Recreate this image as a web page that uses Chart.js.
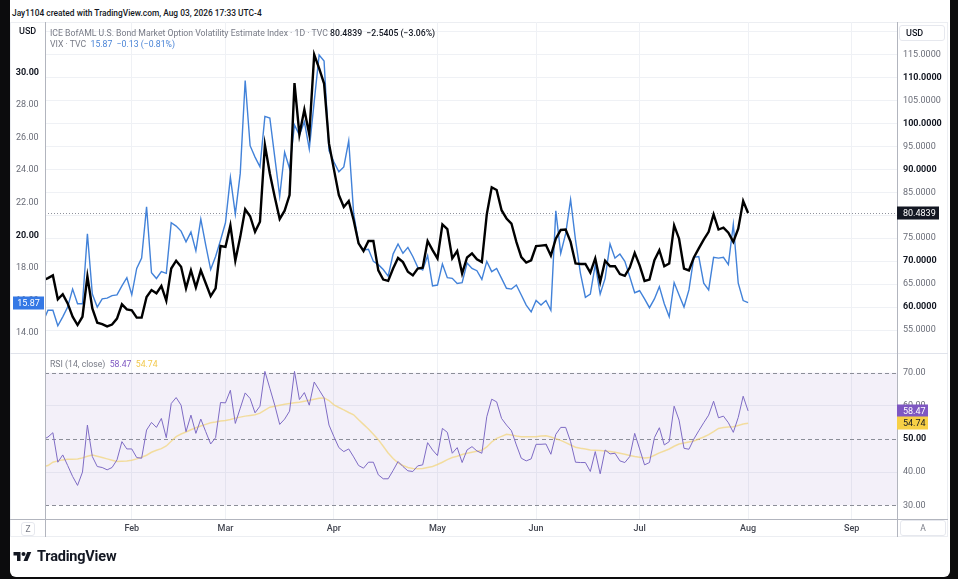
<!DOCTYPE html>
<html>
<head>
<meta charset="utf-8">
<title>MOVE vs VIX</title>
<script src="https://cdn.jsdelivr.net/npm/chart.js@4.4.1/dist/chart.umd.min.js"></script>
<style>
  html, body { margin: 0; padding: 0; }
  body { width: 958px; height: 579px; background: #0c0c0d; position: relative; overflow: hidden;
         font-family: Roboto, "Liberation Sans", sans-serif; }
  #card { position: absolute; left: 10px; top: 0; width: 940px; height: 577px; background: #fff; border-radius: 0 0 6px 6px; }
  .abs { position: absolute; white-space: nowrap; }
  #frame { position: absolute; left: 10px; top: 22px; width: 938px; height: 515px; box-sizing: border-box; border: 1px solid #eceef2; }
  canvas { position: absolute; }
  #mainChart { left: 10px; top: 22px; }
  #rsiChart { left: 10px; top: 353px; }
  .legend { font-size: 8.7px; line-height: 12px; color: #787b86; }
  .dark { color: #131722; }
  .blue { color: #4a84d6; }
  .purple { color: #7e57c2; }
  .yellow { color: #f2c94c; }
  .box { position: absolute; box-sizing: border-box; border: 1px solid #e6e8ee; border-radius: 3px;
         font-size: 8.5px; color: #787b86; text-align: center; }
</style>
</head>
<body>
<div id="card"></div>
<div class="abs dark" style="left:12px; top:8px; font-size:8.4px; font-weight:500;">Jay1104 created with TradingView.com, Aug 03, 2026 17:33 UTC-4</div>
<div id="frame"></div>

<canvas id="mainChart" width="938" height="331"></canvas>
<canvas id="rsiChart" width="938" height="184"></canvas>

<div class="abs dark" style="left:19px; top:26px; font-size:9px; font-weight:500;">USD</div>
<div class="box dark" style="left:899px; top:25px; width:46px; height:16px; line-height:14px; font-size:9px; font-weight:500; text-align:left; padding-left:6px; color:#131722;">USD</div>

<div class="abs legend" style="left:50px; top:27px;">ICE BofAML U.S. Bond Market Option Volatility Estimate Index · 1D · TVC&nbsp;<span class="dark" style="font-weight:500;">80.4839&nbsp;&nbsp;−2.5405 (−3.06%)</span></div>
<div class="abs legend" style="left:50px; top:38px;">VIX · TVC&nbsp;&nbsp;<span class="blue">15.87&nbsp;&nbsp;−0.13 (−0.81%)</span></div>
<div class="abs legend" style="left:50px; top:358px;">RSI (14, close)&nbsp;&nbsp;<span class="purple">58.47</span>&nbsp;&nbsp;<span class="yellow">54.74</span></div>

<div class="box" style="left:21px; top:522px; width:14px; height:14px; line-height:12px;">Z</div>
<div class="box" style="left:900px; top:520px; width:46px; height:16px; line-height:14px;">A</div>

<svg class="abs" style="left:12px; top:550px;" width="21" height="14" viewBox="0 0 36 28">
  <path d="M14 22H7V11H0V4h14v18z" fill="#131722"/>
  <circle cx="20" cy="8" r="4" fill="#131722"/>
  <path d="M28 22h-8l7.5-18h8L28 22z" fill="#131722"/>
</svg>
<div class="abs dark" style="left:37px; top:548px; font-size:14.5px; font-weight:700; letter-spacing:-0.2px;">TradingView</div>

<script>
// bar index of the first value (Feb 2 = 0, one value per trading day)
const firstBar = -18;

const monthBars = [0, 19, 41, 62, 82, 103, 125, 146];
const monthLabels = ['Feb', 'Mar', 'Apr', 'May', 'Jun', 'Jul', 'Aug', 'Sep'];

// MOVE index (right axis, black)
const moveValues = [
  65.8, 66.3, 66.9, 61.7, 62.8, 60.8, 57.9, 56.1, 57.9, 66.7, 59.7, 56.6, 56.3, 55.8, 56.2, 57.5, 60.6, 59.5,
  59.3, 57.7, 57.7, 62.2, 63.7, 63.0, 64.6, 61.4, 68.4, 70.1, 68.8, 64.1, 68.0, 64.3, 68.0, 65.2, 62.4, 64.1, 73.3,
  73.1, 77.8, 70.1, 75.3, 81.3, 79.8, 76.4, 78.6, 95.3, 89.1, 84.0, 79.2, 81.0, 84.4, 108.8, 97.6, 103.0, 97.6, 115.0, 112.0, 108.7, 95.6,
  90.0, 84.4, 81.8, 83.1, 78.9, 73.9, 72.2, 74.4, 74.4, 68.0, 66.0, 65.7, 68.4, 70.7, 69.8, 67.7, 66.9, 68.4, 68.6, 74.4, 72.4,
  70.6, 78.0, 77.0, 70.6, 72.2, 67.3, 70.8, 71.7, 70.4, 69.8, 80.2, 86.1, 85.5, 81.1, 79.3, 78.2, 74.2, 70.9, 69.7, 70.2,
  73.3, 73.4, 73.5, 71.2, 74.9, 76.8, 76.9, 74.2, 69.5, 69.4, 69.4, 67.5, 70.6, 65.5, 70.1, 68.9, 68.9, 67.2, 66.8, 68.6, 71.8,
  69.1, 65.7, 66.0, 70.2, 72.4, 68.9, 69.5, 77.8, 74.9, 68.4, 68.0, 70.8, 72.8, 74.7, 76.4, 80.2, 76.9, 77.3, 76.2, 74.2, 77.1, 83.1,
  80.4839
];

// VIX (left axis, blue)
const vixValues = [
  14.7, 15.4, 15.4, 14.45, 15.0, 15.6, 16.7, 15.8, 15.8, 20.1, 16.4, 15.6, 16.1, 16.15, 16.3, 16.35, 16.9, 17.4,
  16.35, 17.97, 18.6, 21.75, 17.7, 17.35, 17.77, 17.67, 20.77, 20.57, 20.26, 19.6, 20.2, 19.05, 21.0, 19.4, 17.9, 18.7, 19.7,
  20.77, 23.56, 21.3, 23.8, 29.5, 25.5, 24.8, 24.2, 27.3, 27.2, 24.8, 22.4, 25.1, 24.1, 26.77, 26.15, 26.97, 25.3, 28.2, 31.06, 30.7, 25.2,
  24.5, 23.9, 24.2, 25.8, 21.35, 19.5, 19.1, 19.14, 18.4, 18.2, 17.9, 17.5, 18.85, 19.47, 18.9, 19.26, 18.7, 18.04, 17.87, 18.75, 16.9,
  16.95, 18.24, 17.4, 17.36, 17.05, 17.1, 18.3, 17.97, 17.83, 17.3, 18.4, 17.77, 17.97, 17.36, 16.75, 16.7, 16.95, 16.34, 15.72, 15.3,
  16.0, 15.72, 16.0, 15.4, 21.5, 18.9, 20.1, 22.2, 19.7, 17.67, 16.2, 16.4, 18.2, 16.4, 17.36, 19.47, 18.6, 18.85, 18.4, 17.46, 16.48,
  16.6, 16.1, 15.56, 16.1, 16.85, 15.8, 15.0, 17.1, 16.34, 15.6, 16.65, 18.65, 18.7, 17.06, 16.65, 18.65, 18.6, 18.65, 18.2, 20.67, 17.06, 16.0,
  15.87
];

// RSI(14) of MOVE and its moving average
const rsiValues = [
  49.8, 50.6, 51.9, 43.0, 45.2, 42.0, 38.7, 36.0, 40.0, 54.2, 44.7, 41.7, 41.4, 40.7, 41.4, 43.7, 49.2, 47.0,
  47.0, 44.4, 44.2, 52.7, 55.0, 53.5, 56.2, 50.4, 60.7, 62.5, 60.2, 52.2, 57.2, 51.7, 56.0, 52.2, 48.5, 50.4, 61.0,
  60.9, 64.7, 54.7, 59.3, 63.9, 62.2, 57.9, 59.9, 70.4, 65.3, 60.2, 54.4, 56.0, 58.4, 70.4, 61.9, 64.0, 60.2, 67.2, 64.8, 62.4, 54.2,
  50.7, 47.4, 46.2, 47.0, 44.6, 42.0, 41.2, 43.0, 43.0, 39.2, 38.0, 38.0, 40.5, 43.2, 41.7, 40.4, 40.2, 41.9, 42.2, 48.9, 46.7,
  45.0, 53.2, 52.0, 45.7, 47.4, 42.9, 46.7, 47.7, 46.4, 45.7, 56.7, 62.0, 61.2, 56.2, 54.2, 52.5, 48.2, 44.2, 43.4, 44.0,
  48.4, 48.4, 48.5, 45.4, 51.4, 53.5, 53.5, 49.2, 43.0, 42.9, 42.9, 40.2, 46.2, 39.5, 46.7, 45.5, 45.7, 43.4, 42.9, 44.7, 51.7,
  47.0, 42.2, 42.9, 50.4, 53.4, 48.2, 49.2, 59.9, 55.7, 47.2, 46.9, 50.0, 52.5, 54.9, 57.2, 61.4, 56.4, 56.9, 54.9, 52.0, 56.5, 62.9,
  58.47
];

const rsiMaValues = [
  41.6, 42.0, 43.0, 43.4, 43.7, 43.9, 43.9, 44.0, 44.3, 44.8, 45.2, 44.8, 44.4, 44.0, 43.6, 43.2, 43.3, 43.4,
  43.6, 44.0, 44.5, 45.1, 46.0, 46.6, 47.1, 47.9, 49.3, 50.7, 51.5, 52.1, 52.8, 53.4, 53.9, 54.4, 54.9, 55.1, 55.4,
  55.6, 55.9, 56.3, 56.6, 56.9, 57.1, 57.3, 57.8, 58.7, 59.6, 59.9, 60.2, 60.5, 60.7, 60.9, 61.1, 61.4, 61.7, 62.0, 62.3, 62.4, 61.6,
  60.3, 59.5, 58.8, 58.0, 57.3, 55.8, 54.4, 53.0, 51.4, 49.8, 47.8, 45.8, 44.1, 42.8, 42.0, 41.4, 41.1, 41.0, 41.1, 41.4, 41.7,
  42.3, 43.0, 43.8, 44.4, 44.8, 45.3, 45.7, 46.0, 46.3, 46.6, 47.6, 49.1, 50.2, 50.8, 51.4, 51.2, 50.9, 50.7, 50.7, 50.7,
  50.7, 50.9, 51.0, 50.6, 50.1, 49.6, 48.9, 48.2, 47.5, 47.2, 47.0, 46.7, 46.6, 46.5, 46.4, 46.2, 46.0, 45.7, 45.4, 45.0, 44.7,
  44.5, 44.3, 44.4, 45.1, 45.8, 46.4, 47.0, 47.8, 48.5, 48.8, 49.1, 49.4, 50.0, 50.6, 51.3, 52.2, 53.2, 53.5, 53.6, 53.7, 54.1, 54.5,
  54.74
];

const vixTicks = [14, 16, 18, 20, 22, 24, 26, 28, 30, 32];
const moveTicks = [55, 60, 65, 70, 75, 80, 85, 90, 95, 100, 105, 110, 115, 120];
const rsiTicks = [30, 40, 50, 60, 70];

const moveLast = moveValues[moveValues.length - 1];
const vixLast = vixValues[vixValues.length - 1];
const rsiLast = rsiValues[rsiValues.length - 1];
const rsiMaLast = rsiMaValues[rsiMaValues.length - 1];

const xMin = -17.6, xMax = 155.2;
const gridColor = '#eff1f5';
const axisColor = '#b2b5be';

Chart.defaults.font.family = 'Roboto, "Liberation Sans", sans-serif';
Chart.defaults.font.size = 9;

function toPoints(vals) {
  return vals.map((v, k) => ({ x: firstBar + k, y: v }));
}

function setTicks(list) {
  return scale => { scale.ticks = list.map(v => ({ value: v })); };
}

function noPad(scale) {
  scale.paddingTop = 0; scale.paddingBottom = 0;
  scale.paddingLeft = 0; scale.paddingRight = 0;
}

function badge(ctx, x1, x2, y, text, bg, fg, align) {
  ctx.fillStyle = bg;
  ctx.fillRect(x1, Math.round(y) - 6.5, x2 - x1, 13);
  ctx.fillStyle = fg;
  ctx.font = '9px Roboto, "Liberation Sans", sans-serif';
  ctx.textBaseline = 'middle';
  if (align === 'center') {
    ctx.textAlign = 'center';
    ctx.fillText(text, (x1 + x2) / 2, Math.round(y) + 0.5);
  } else {
    ctx.textAlign = 'left';
    ctx.fillText(text, x1 + 6, Math.round(y) + 0.5);
  }
}

const mainOverlay = {
  id: 'mainOverlay',
  beforeDatasetsDraw(chart) {
    const { ctx, chartArea: a, scales } = chart;
    const y = Math.round(scales.yMove.getPixelForValue(moveLast)) + 0.5;
    ctx.save();
    ctx.strokeStyle = '#8f929c';
    ctx.lineWidth = 1;
    ctx.setLineDash([1, 2]);
    ctx.beginPath();
    ctx.moveTo(a.left, y);
    ctx.lineTo(a.right, y);
    ctx.stroke();
    ctx.restore();
  },
  afterDraw(chart) {
    const { ctx, chartArea: a, scales, height } = chart;
    ctx.save();
    ctx.strokeStyle = axisColor;
    ctx.lineWidth = 1;
    ctx.beginPath();
    ctx.moveTo(a.left + 0.5, 0); ctx.lineTo(a.left + 0.5, height);
    ctx.moveTo(a.right + 0.5, 0); ctx.lineTo(a.right + 0.5, height);
    ctx.stroke();
    badge(ctx, 3, a.left - 1, scales.yVix.getPixelForValue(vixLast), vixLast.toFixed(2), '#3478e5', '#fff', 'center');
    badge(ctx, a.right, a.right + 42, scales.yMove.getPixelForValue(moveLast), moveLast.toFixed(4), '#131722', '#fff');
    ctx.restore();
  }
};

const rsiOverlay = {
  id: 'rsiOverlay',
  beforeDatasetsDraw(chart) {
    const { ctx, chartArea: a, scales } = chart;
    const y70 = scales.yRsi.getPixelForValue(70);
    const y30 = scales.yRsi.getPixelForValue(30);
    ctx.save();
    ctx.fillStyle = 'rgba(126, 87, 194, 0.09)';
    ctx.fillRect(a.left, y70, a.right - a.left, y30 - y70);
    ctx.strokeStyle = '#8b8e98';
    ctx.lineWidth = 1;
    ctx.setLineDash([4, 3]);
    [70, 50, 30].forEach(v => {
      const y = Math.round(scales.yRsi.getPixelForValue(v)) + 0.5;
      ctx.beginPath();
      ctx.moveTo(a.left, y);
      ctx.lineTo(a.right, y);
      ctx.stroke();
    });
    ctx.restore();
  },
  afterDraw(chart) {
    const { ctx, chartArea: a, scales, width, height } = chart;
    ctx.save();
    ctx.lineWidth = 1;
    ctx.strokeStyle = '#e0e3eb';
    ctx.beginPath();
    ctx.moveTo(0, 0.5); ctx.lineTo(width, 0.5);
    ctx.stroke();
    ctx.strokeStyle = axisColor;
    ctx.beginPath();
    ctx.moveTo(a.left + 0.5, 0); ctx.lineTo(a.left + 0.5, height);
    ctx.moveTo(a.right + 0.5, 0); ctx.lineTo(a.right + 0.5, height);
    ctx.moveTo(0, a.bottom + 0.5); ctx.lineTo(width, a.bottom + 0.5);
    ctx.stroke();
    badge(ctx, a.right, a.right + 31, scales.yRsi.getPixelForValue(rsiLast), rsiLast.toFixed(2), '#7e57c2', '#fff');
    badge(ctx, a.right, a.right + 31, scales.yRsi.getPixelForValue(rsiMaLast), rsiMaLast.toFixed(2), '#f7d046', '#131722');
    ctx.restore();
  }
};

new Chart(document.getElementById('mainChart'), {
  type: 'line',
  data: {
    datasets: [
      {
        label: 'ICE BofAML MOVE Index',
        data: toPoints(moveValues),
        yAxisID: 'yMove',
        borderColor: '#000000',
        borderWidth: 2.4,
        pointRadius: 0,
        order: 0
      },
      {
        label: 'VIX',
        data: toPoints(vixValues),
        yAxisID: 'yVix',
        borderColor: '#4282d9',
        borderWidth: 1.4,
        pointRadius: 0,
        order: 1
      }
    ]
  },
  options: {
    responsive: false,
    animation: false,
    layout: { padding: 0 },
    plugins: { legend: { display: false }, tooltip: { enabled: false } },
    scales: {
      x: {
        type: 'linear', min: xMin, max: xMax,
        afterBuildTicks: setTicks(monthBars),
        ticks: { display: false },
        grid: { color: gridColor, drawTicks: false },
        border: { display: false },
        afterFit: s => { s.height = 0; noPad(s); }
      },
      yVix: {
        type: 'linear', position: 'left', min: 12.78, max: 33.09,
        afterBuildTicks: setTicks(vixTicks),
        ticks: {
          autoSkip: false, crossAlign: 'center', padding: 6,
          callback: v => v === 32 ? '' : v.toFixed(2),
          color: c => c.tick && c.tick.value % 10 === 0 ? '#131722' : '#6a6d78',
          font: c => ({ size: 9, weight: c.tick && c.tick.value % 10 === 0 ? 'bold' : 'normal' })
        },
        grid: { display: false, drawTicks: false },
        border: { display: false },
        afterFit: s => { s.width = 35; noPad(s); }
      },
      yMove: {
        type: 'linear', position: 'right', min: 50, max: 122.1,
        afterBuildTicks: setTicks(moveTicks),
        ticks: {
          autoSkip: false, padding: 6,
          callback: v => v === 120 ? '' : v.toFixed(4),
          color: c => c.tick && c.tick.value % 10 === 0 ? '#131722' : '#6a6d78',
          font: c => ({ size: 9, weight: c.tick && c.tick.value % 10 === 0 ? 'bold' : 'normal' })
        },
        grid: { color: gridColor, drawTicks: false },
        border: { display: false },
        afterFit: s => { s.width = 51; noPad(s); }
      }
    }
  },
  plugins: [mainOverlay]
});

new Chart(document.getElementById('rsiChart'), {
  type: 'line',
  data: {
    datasets: [
      {
        label: 'RSI (14, close)',
        data: toPoints(rsiValues),
        yAxisID: 'yRsi',
        borderColor: '#7e6bc4',
        borderWidth: 1,
        pointRadius: 0,
        order: 0
      },
      {
        label: 'RSI-based MA',
        data: toPoints(rsiMaValues),
        yAxisID: 'yRsi',
        borderColor: 'rgba(243, 210, 110, 0.65)',
        borderWidth: 1.5,
        pointRadius: 0,
        order: 1
      }
    ]
  },
  options: {
    responsive: false,
    animation: false,
    layout: { padding: { left: 35, right: 0, top: 0, bottom: 0 } },
    plugins: { legend: { display: false }, tooltip: { enabled: false } },
    scales: {
      x: {
        type: 'linear', min: xMin, max: xMax,
        afterBuildTicks: setTicks(monthBars),
        ticks: {
          autoSkip: false, maxRotation: 0, padding: 4,
          color: '#434651',
          font: { size: 9, weight: '500' },
          callback: v => monthLabels[monthBars.indexOf(v)] || ''
        },
        grid: { color: gridColor, drawTicks: false },
        border: { display: false },
        afterFit: s => { s.height = 18; noPad(s); }
      },
      yRsi: {
        type: 'linear', position: 'right', min: 25.87, max: 75.94,
        afterBuildTicks: setTicks(rsiTicks),
        ticks: {
          autoSkip: false, padding: 6,
          callback: v => v.toFixed(2),
          color: c => c.tick && c.tick.value === 50 ? '#131722' : '#6a6d78',
          font: c => ({ size: 9, weight: c.tick && c.tick.value === 50 ? 'bold' : 'normal' })
        },
        grid: {
          drawTicks: false,
          color: c => c.tick && (c.tick.value === 40 || c.tick.value === 60) ? gridColor : 'rgba(0,0,0,0)'
        },
        border: { display: false },
        afterFit: s => { s.width = 51; noPad(s); }
      }
    }
  },
  plugins: [rsiOverlay]
});
</script>
</body>
</html>
